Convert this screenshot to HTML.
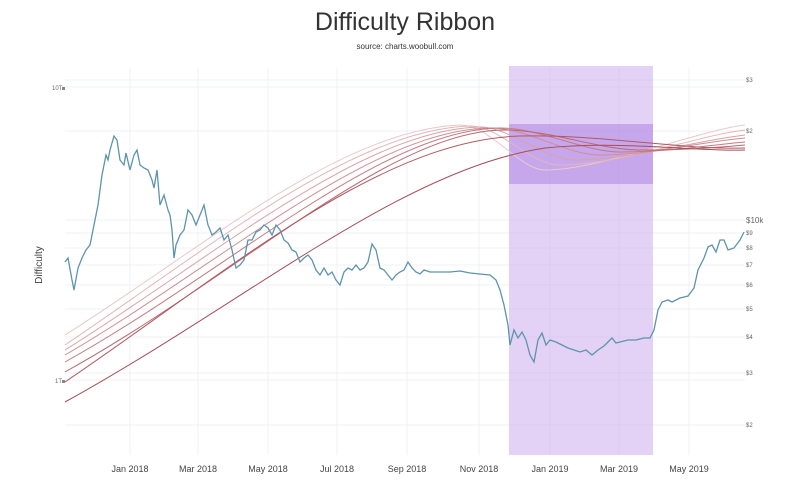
<!DOCTYPE html>
<html><head><meta charset="utf-8"><style>
body{margin:0;background:#fff;width:800px;height:487px;overflow:hidden;font-family:"Liberation Sans",sans-serif}
</style></head><body>
<svg width="800" height="487" viewBox="0 0 800 487" xmlns="http://www.w3.org/2000/svg" font-family="Liberation Sans, sans-serif">
<text x="405" y="30" text-anchor="middle" font-size="25" fill="#333">Difficulty Ribbon</text>
<text x="405" y="49" text-anchor="middle" font-size="8" fill="#333">source: charts.woobull.com</text>
<text x="42" y="265" font-size="10" fill="#444" text-anchor="middle" transform="rotate(-90 42 265)">Difficulty</text>
<g stroke="#eef0f3" stroke-width="1">
<line x1="130" y1="68" x2="130" y2="455"/><line x1="198" y1="68" x2="198" y2="455"/><line x1="268" y1="68" x2="268" y2="455"/><line x1="337" y1="68" x2="337" y2="455"/><line x1="407" y1="68" x2="407" y2="455"/><line x1="479" y1="68" x2="479" y2="455"/><line x1="550" y1="68" x2="550" y2="455"/><line x1="619" y1="68" x2="619" y2="455"/><line x1="689" y1="68" x2="689" y2="455"/>
<line x1="65" y1="80" x2="745" y2="80"/><line x1="65" y1="87" x2="745" y2="87"/><line x1="65" y1="131" x2="745" y2="131"/><line x1="65" y1="220" x2="745" y2="220"/><line x1="65" y1="233" x2="745" y2="233"/><line x1="65" y1="248" x2="745" y2="248"/><line x1="65" y1="265" x2="745" y2="265"/><line x1="65" y1="285" x2="745" y2="285"/><line x1="65" y1="309" x2="745" y2="309"/><line x1="65" y1="337" x2="745" y2="337"/><line x1="65" y1="373" x2="745" y2="373"/><line x1="65" y1="380" x2="745" y2="380"/><line x1="65" y1="425" x2="745" y2="425"/>
</g>
<rect x="509" y="66" width="144" height="389" fill="#c9a6ee" opacity="0.5"/>
<rect x="509" y="124" width="144" height="60" fill="#a97be0" opacity="0.5"/>
<g fill="none" stroke-width="1">
<path d="M65,335 C200,250 340,130 460,125 C490,125 520,170 545,170 C600,170 700,130 745,125" stroke="#e9c9cc"/>
<path d="M65,345 C200,255 350,130 470,126 C500,126 530,165 560,165 C620,165 700,135 745,130" stroke="#e2b6ba"/>
<path d="M65,350 C210,260 360,130 480,127 C510,127 545,160 575,160 C630,160 700,140 745,135" stroke="#d9a2a7"/>
<path d="M65,355 C220,265 370,130 490,128 C530,128 565,155 600,155 C650,155 700,142 745,138" stroke="#cf8e94"/>
<path d="M65,362 C230,270 380,130 500,128 C540,128 585,152 620,152 C670,152 710,145 745,142" stroke="#c47a81"/>
<path d="M65,372 C240,275 390,130 505,130 C550,130 600,150 640,150 C690,150 720,147 745,145" stroke="#b9686f"/>
<path d="M65,382 C230,270 380,140 520,136 C600,134 680,150 745,148" stroke="#b05960"/>
<path d="M65,402 C250,300 400,170 545,148 C620,140 700,152 745,150" stroke="#a84d55"/>
</g>
<polyline fill="none" stroke="#5d94ad" stroke-width="1.3" points="65,262 68,258 72,280 74,290 78,268 82,258 86,250 90,245 94,225 98,205 102,175 106,155 108,160 110,150 114,136 117,140 120,160 124,165 126,153 130,170 134,155 137,150 140,165 144,168 148,170 152,180 154,188 157,170 160,205 164,195 168,210 170,215 172,230 174,258 176,245 180,235 184,230 188,210 192,215 196,225 200,215 204,205 208,225 212,235 216,232 220,228 224,240 228,235 232,250 236,268 240,265 244,260 248,240 252,240 256,232 260,230 264,225 268,228 272,235 276,225 280,230 284,240 288,243 292,250 296,252 300,262 304,258 308,255 312,260 316,270 320,275 324,268 328,275 332,272 336,280 340,285 344,272 348,268 352,270 356,265 360,270 364,268 368,262 372,244 376,250 380,268 384,270 388,275 392,280 396,275 400,272 404,270 408,262 412,268 416,272 420,274 424,270 430,272 440,272 450,272 460,271 470,273 480,274 490,275 496,280 500,290 504,305 508,325 510,345 514,330 518,338 522,332 526,340 530,355 534,362 538,340 542,333 546,345 550,340 556,342 562,345 568,348 574,350 580,352 586,350 592,355 598,350 604,346 608,342 612,338 616,343 620,342 628,340 636,340 644,338 650,338 654,330 658,310 662,302 668,300 672,302 680,298 688,296 694,288 698,270 704,258 708,247 712,245 716,252 720,240 724,240 728,250 734,248 740,240 744,232"/>
<g font-size="6" fill="#666">
<text x="52" y="90">10T</text><rect x="62" y="87" width="3" height="3" fill="#888"/>
<text x="55" y="383">1T</text><rect x="62" y="380" width="3" height="3" fill="#888"/>
<text x="746" y="82">$3</text><text x="746" y="133">$2</text>
<text x="746" y="223" font-size="8">$10k</text>
<text x="746" y="235">$9</text><text x="746" y="250">$8</text><text x="746" y="267">$7</text><text x="746" y="287">$6</text><text x="746" y="311">$5</text><text x="746" y="339">$4</text><text x="746" y="375">$3</text><text x="746" y="427">$2</text>
</g>
<g font-size="9" fill="#444" text-anchor="middle">
<text x="130" y="472">Jan 2018</text><text x="198" y="472">Mar 2018</text><text x="268" y="472">May 2018</text><text x="337" y="472">Jul 2018</text><text x="407" y="472">Sep 2018</text><text x="479" y="472">Nov 2018</text><text x="550" y="472">Jan 2019</text><text x="619" y="472">Mar 2019</text><text x="689" y="472">May 2019</text>
</g>
</svg>
</body></html>
